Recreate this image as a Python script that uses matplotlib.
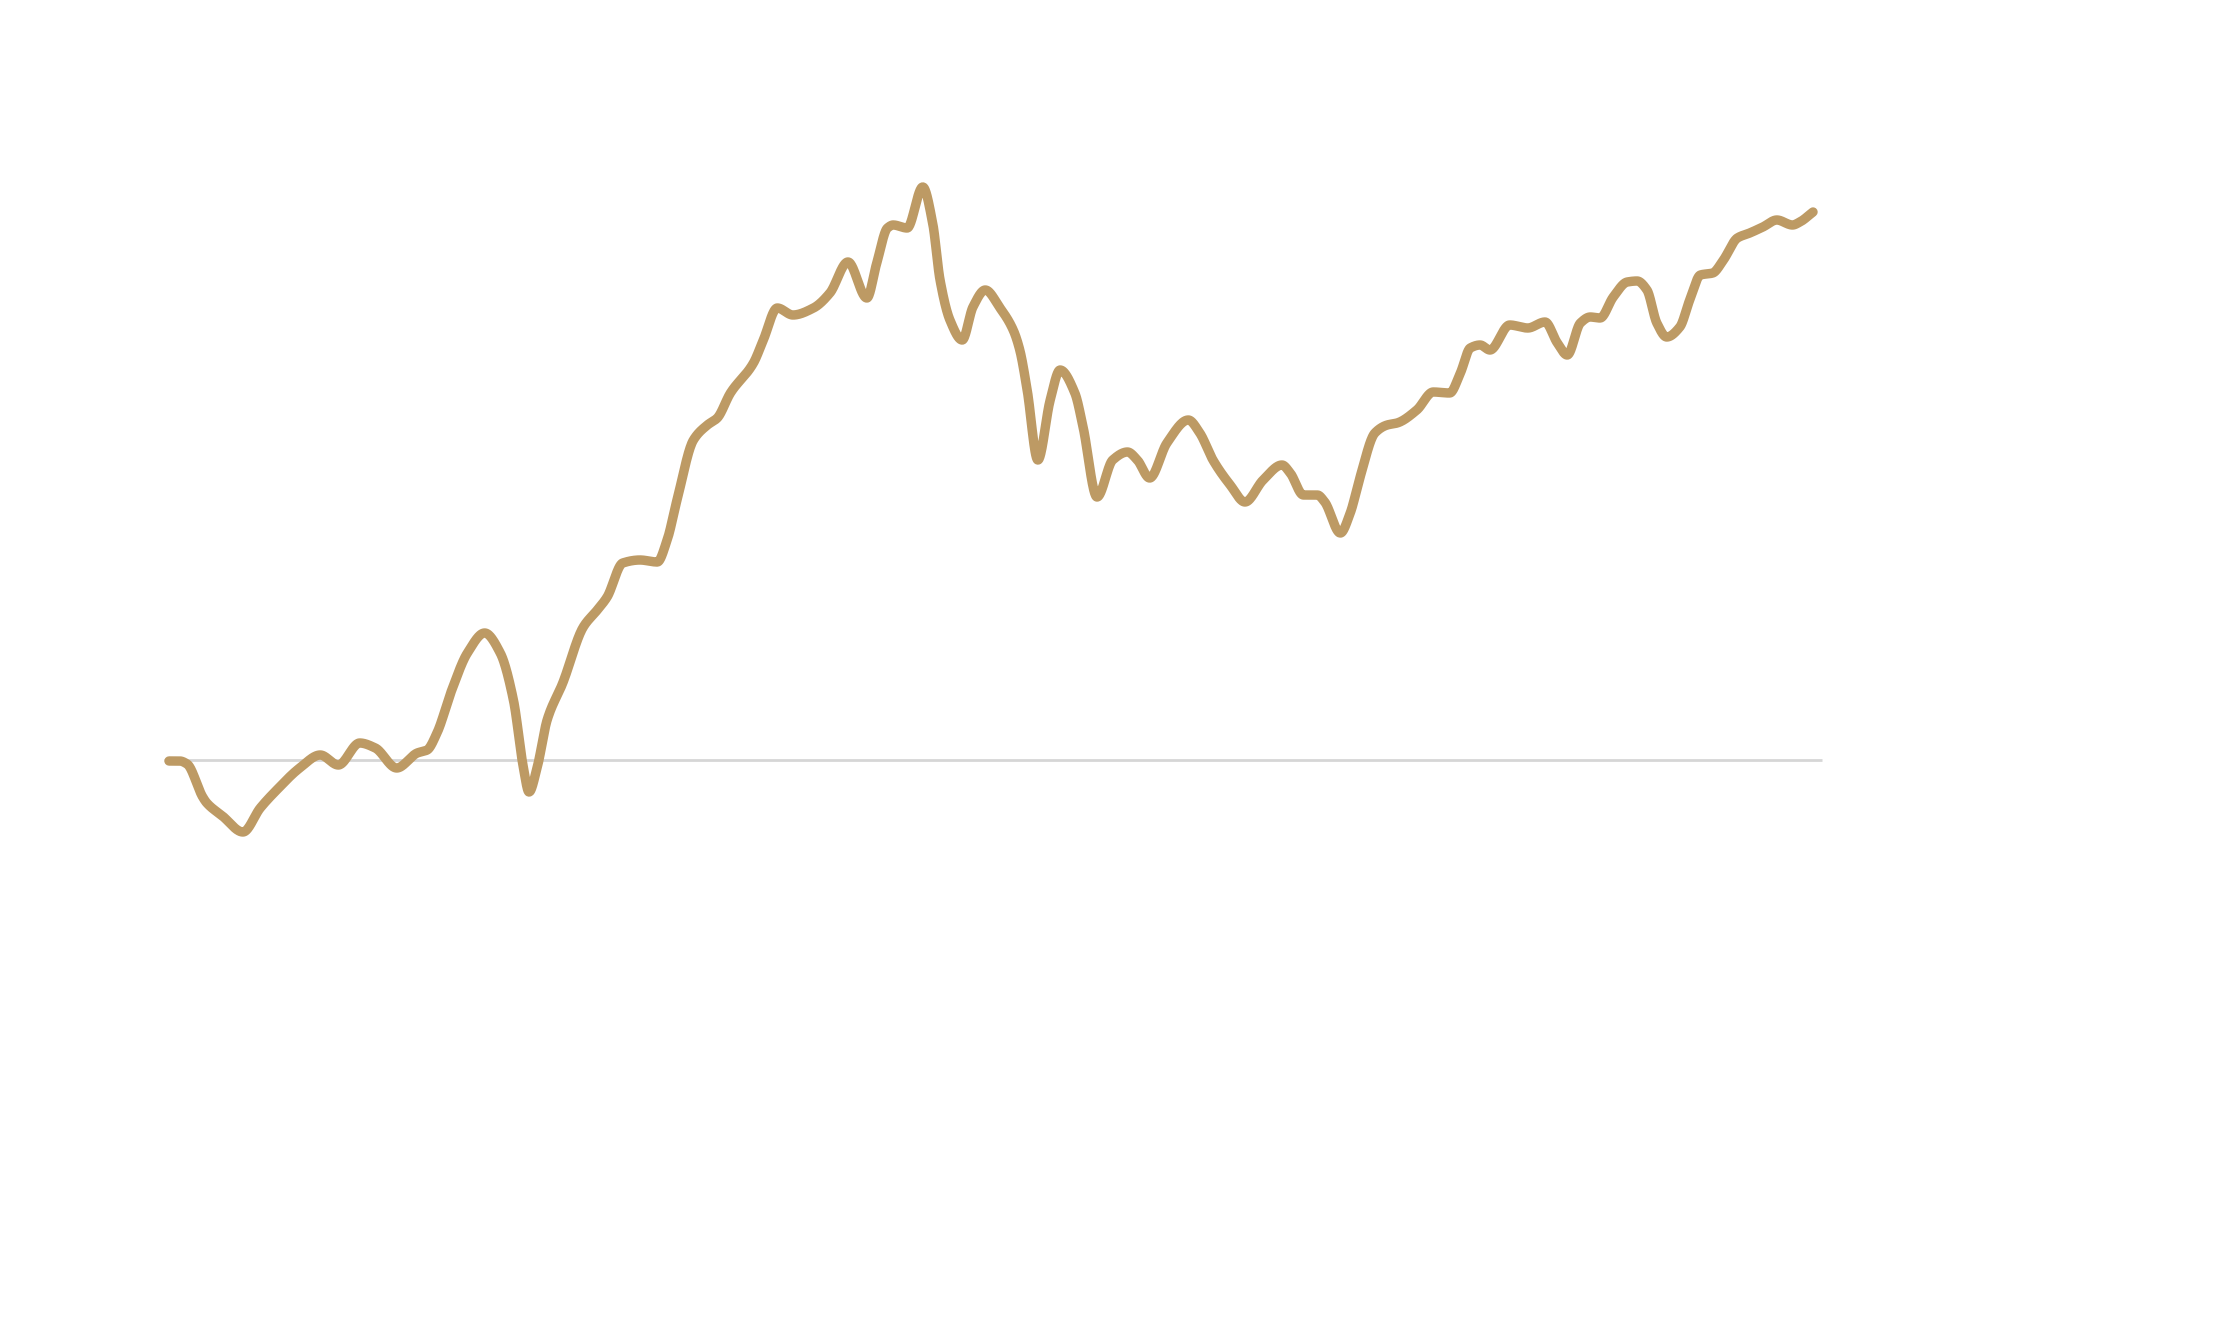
import numpy as np
import matplotlib
matplotlib.use("Agg")
import matplotlib.pyplot as plt

# Time index (weeks from start) and cumulative change (%)
weeks = [0, 1.3, 2.2, 4.1, 4.6, 6.5, 9.0, 11.1, 13.1, 15.9, 18.4, 20.6, 23.2, 25.1, 27.7,
         30.2, 31.4, 32.6, 34.4, 36.3, 38.4, 40.3, 41.9, 43.1, 43.8, 44.8, 46.0, 47.9,
         50.4, 52.1, 53.3, 55.2, 57.3, 59.4, 60.6, 61.8, 63.8, 65.5, 66.7, 68.3, 71.1,
         72.3, 74.0, 75.9, 78.4, 80.4, 82.6, 84.9, 86.1, 87.4, 88.1, 89.8, 91.7, 92.9,
         93.8, 95.0, 96.5, 97.8, 99.3, 101.1, 102.7, 103.5, 104.4, 105.7, 107.2, 108.4,
         110.2, 111.2, 112.9, 114.8, 116.6, 117.8, 119.3, 121.4, 124.0, 125.4, 127.0,
         129.1, 130.9, 133.1, 135.4, 136.4, 138.0, 139.7, 140.6, 142.5, 143.7, 144.9,
         146.7, 148.2, 149.4, 151.8, 153.8, 155.8, 157.1, 158.3, 159.5, 160.7, 163.1,
         165.3, 167.4, 168.9, 170.1, 171.7, 172.9, 174.1, 175.7, 177.4, 178.6, 179.8,
         181.0, 182.2, 183.8, 185.0, 186.3, 187.8, 189.1, 190.8, 192.3, 193.9, 195.6,
         197.5, 198.4, 200.0]
change = [-0.1, -0.1, -0.4, -3.7, -4.3, -5.6, -7.2, -4.8, -3.0, -0.8, 0.5, -0.5, 1.7, 1.2,
          -0.8, 0.7, 1.0, 2.7, 7.0, 10.7, 12.7, 10.7, 6.0, -0.7, -3.2, -0.7, 4.0, 7.7,
          13.3, 15.0, 16.3, 19.7, 20.0, 19.8, 22.0, 26.0, 32.0, 33.5, 34.2, 36.7, 39.7,
          42.0, 45.2, 44.5, 45.2, 46.7, 49.8, 46.2, 49.7, 53.2, 53.5, 53.2, 57.3, 53.7,
          48.0, 44.0, 42.0, 45.3, 47.0, 45.2, 43.0, 41.0, 37.0, 30.0, 36.0, 39.0,
          36.7, 33.3, 26.3, 30.0, 30.8, 30.0, 28.2, 31.7, 34.0, 32.7, 30.0,
          27.5, 25.8, 28.0, 29.5, 28.7, 26.5, 26.5, 25.8, 22.7, 24.7, 28.3,
          32.7, 33.5, 33.7, 35.0, 36.8, 36.7, 38.7, 41.2, 41.5, 41.0, 43.5,
          43.2, 43.8, 41.7, 40.5, 43.7, 44.3, 44.2, 46.3, 47.8, 47.9, 47.0,
          43.7, 42.3, 43.3, 46.0, 48.5, 48.7, 50.0, 52.2, 52.7, 53.3, 54.0,
          53.5, 53.8, 54.8]

LINE_COLOR = "#bd9a64"
BASE_COLOR = "#d6d6d6"


def monotone_curve(x, y, n=30):
    """Monotone cubic (Fritsch-Carlson) rendering of a polyline."""
    x = np.asarray(x, float)
    y = np.asarray(y, float)
    h = np.diff(x)
    d = np.diff(y) / h
    m = np.zeros_like(y)
    m[0], m[-1] = d[0], d[-1]
    for i in range(1, len(y) - 1):
        if d[i - 1] * d[i] <= 0:
            m[i] = 0.0
        else:
            w1 = 2 * h[i] + h[i - 1]
            w2 = h[i] + 2 * h[i - 1]
            m[i] = (w1 + w2) / (w1 / d[i - 1] + w2 / d[i])
    xs, ys = [], []
    for i in range(len(h)):
        t = np.linspace(0, 1, n, endpoint=False)
        h00 = 2 * t**3 - 3 * t**2 + 1
        h10 = t**3 - 2 * t**2 + t
        h01 = -2 * t**3 + 3 * t**2
        h11 = t**3 - t**2
        xs.append(x[i] + t * h[i])
        ys.append(h00 * y[i] + h10 * h[i] * m[i] + h01 * y[i + 1] + h11 * h[i] * m[i + 1])
    xs.append([x[-1]])
    ys.append([y[-1]])
    return np.concatenate(xs), np.concatenate(ys)


fig = plt.figure(figsize=(22.37, 13.37), dpi=100)
ax = fig.add_axes([0, 0, 1, 1])
ax.set_xlim(-20.56, 251.58)
ax.set_ylim(-57.7, 76.0)
ax.axis("off")

ax.hlines(0, -0.6, 201.1, color=BASE_COLOR, linewidth=2.0, zorder=1)

sx, sy = monotone_curve(weeks, change)
ax.plot(sx, sy, color=LINE_COLOR, linewidth=6.8, solid_capstyle="round",
        solid_joinstyle="round", zorder=2)

fig.savefig("out.png", dpi=100, facecolor="white")
